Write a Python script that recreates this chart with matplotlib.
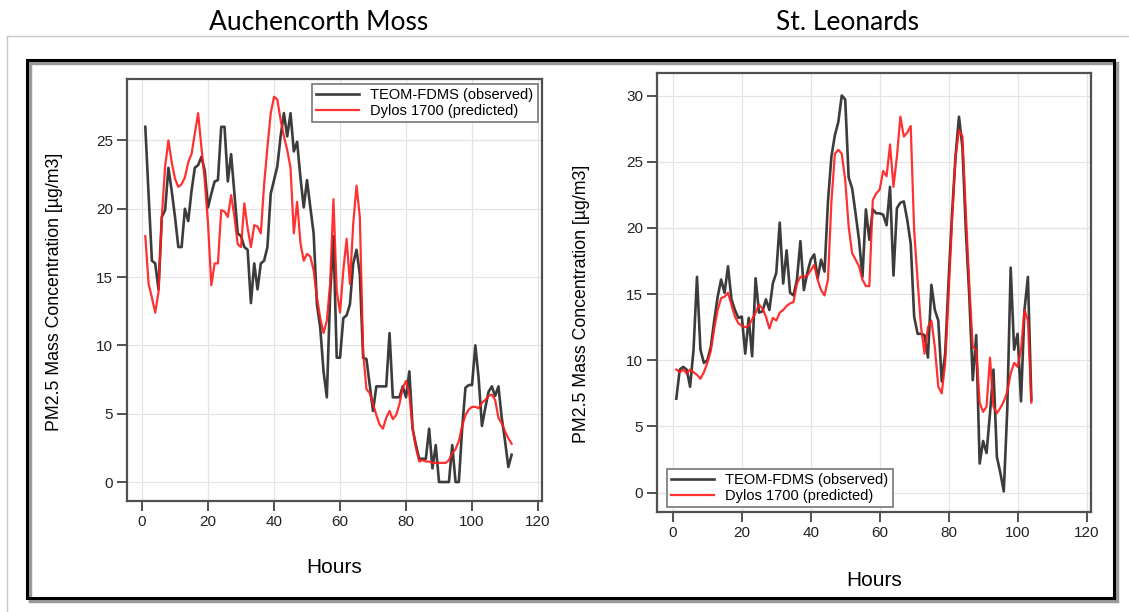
import numpy as np
import matplotlib
matplotlib.use("Agg")
import matplotlib.pyplot as plt
from matplotlib.patches import Rectangle
from matplotlib.lines import Line2D

plt.rcParams['font.family'] = ['Liberation Sans', 'DejaVu Sans']

# Auchencorth Moss, hourly PM2.5 (ug/m3)
am_obs = [26, 21, 16.2, 16, 14.1, 19.4, 19.9, 23, 21.3, 19.4,
          17.2, 17.2, 20, 19.1, 21.3, 23, 23.2, 23.8, 22.8, 20.1,
          21.1, 22, 22.1, 26, 26, 22, 24, 21.1, 18.2, 18,
          17.2, 17, 13.1, 16, 14.1, 16, 16.2, 17.2, 21.1, 22.1,
          23.1, 25.3, 27, 25.3, 27, 24.2, 24.9, 22.3, 20.1, 22.1,
          20.1, 18.2, 13, 11.3, 8.1, 6.2, 13.7, 18, 9.1, 9.1,
          12, 12.2, 13, 16, 17, 15.2, 9.1, 9, 7.1, 5.2,
          7, 7, 7, 7, 10.9, 6.2, 6.2, 6.2, 7, 6.2,
          8.1, 3.9, 2.7, 1.7, 1.7, 1.7, 3.9, 1, 2.7, 0,
          0, 0, 0, 2.7, 0, 0, 3.9, 6.9, 7.1, 7.1,
          10, 7.6, 4.1, 5.4, 6.6, 7, 6.3, 7, 4.7, 3,
          1.1, 2]
am_pred = [18, 14.5, 13.5, 12.4, 13.9, 19.4, 23.1, 25, 23.4, 22.2,
           21.6, 21.8, 22.3, 23.4, 24, 25.5, 27, 24.5, 22.1, 18.9,
           14.4, 16, 16, 19.9, 19.8, 19.4, 21, 19.4, 17.4, 17.2,
           20.4, 18.6, 17.2, 18.8, 18.7, 18.2, 21.8, 24.5, 27, 28.2,
           28, 26.5, 25.3, 24.3, 23, 18.2, 20.5, 17.5, 16.2, 16.7,
           16.5, 15.5, 13.5, 12, 10.9, 11.8, 14.5, 20.7, 14, 12.4,
           15.5, 17.8, 14.5, 18.9, 21.7, 19.4, 9.5, 6.8, 6.5, 5.7,
           4.9, 4.2, 3.9, 4.7, 5.2, 4.6, 4.9, 5.7, 6.9, 7.4,
           6.4, 3.9, 2.5, 1.5, 1.6, 1.5, 1.5, 1.4, 1.4, 1.4,
           1.4, 1.4, 1.6, 2.1, 2.4, 3, 4.1, 4.9, 5.3, 5.5,
           5.5, 5.4, 5.8, 6, 6.3, 6.4, 6, 4.7, 4.3, 3.7,
           3.2, 2.8]

# St. Leonards
sl_obs = [7.1, 9.3, 9.5, 9.3, 8, 10.8, 16.3, 10.8, 9.8, 10,
          11, 13, 14.8, 16.1, 15.1, 17.1, 14.6, 13.8, 13.2, 13.3,
          10.5, 13.2, 10.3, 16.2, 13.6, 13.7, 14.6, 13.8, 15.8, 16.6,
          20.4, 15.8, 18.3, 15.1, 14.9, 16.1, 19, 15.3, 16.6, 17.6,
          18, 16.2, 17.6, 16.7, 22, 25.4, 27, 28, 30, 29.7,
          23.8, 23, 21.1, 19.1, 16.3, 21.4, 19.1, 21.4, 21.1, 21.1,
          21, 20.2, 23.1, 16.4, 21.5, 21.9, 22, 20.6, 18.8, 13.3,
          12, 12, 11.9, 10.2, 15.7, 13.8, 13, 8.4, 10.5, 16.1,
          21.1, 25.4, 28.4, 26.1, 19.8, 14.8, 8.5, 11.9, 2.2, 3.9,
          3, 6, 9.3, 2.7, 1.5, 0.1, 6.2, 17, 10.8, 12,
          6.9, 13.8, 16.3, 7]
sl_pred = [9.3, 9.1, 9.3, 9, 9.3, 9.1, 8.9, 8.6, 9.1, 9.8,
           10.7, 12.4, 13.8, 14.7, 14.8, 15.1, 14.2, 13.3, 12.8, 12.6,
           12.5, 12.6, 13.1, 13.6, 14.2, 13.9, 13.3, 12.4, 13.2, 13,
           13.6, 13.8, 14.1, 14.3, 14.4, 15.8, 16.3, 16.3, 16.4, 16.8,
           17.2, 16.1, 15.3, 14.9, 16.1, 22, 25.6, 25.9, 25.6, 23.6,
           20.1, 18.1, 17.6, 17.1, 16.1, 15.6, 15.6, 22.1, 22.6, 22.9,
           24.3, 23.9, 26.3, 23.1, 25.4, 28.4, 26.9, 27.2, 27.7, 19.8,
           16, 12.5, 10.5, 12.5, 13, 11, 8, 7.5, 9.8, 15.1,
           20.6, 25.3, 27.4, 26.9, 21.1, 15.6, 11, 10.8, 6.8, 6.1,
           6.5, 10.2, 6.5, 6, 6.4, 6.9, 7.6, 9, 9.8, 9.5,
           10.8, 13.8, 13, 6.8]

W, H = 1129, 612
fig = plt.figure(figsize=(W / 100, H / 100), dpi=100)


def px_rect(l, t, r, b):
    return [l / W, 1 - b / H, (r - l) / W, (b - t) / H]


# outer decoration: thin grey rules and black framed box
fig.add_artist(Line2D([7 / W, 1], [1 - 36 / H, 1 - 36 / H], color='#c8c8c8', lw=1))
fig.add_artist(Line2D([7 / W, 7 / W], [0, 1 - 36 / H], color='#c8c8c8', lw=1))
fig.add_artist(Rectangle((30 / W, 1 - 601 / H), 1087 / W, 538 / H,
                         facecolor='none', edgecolor='#9a9a9a', lw=2.5))
fig.add_artist(Rectangle((27 / W, 1 - 598 / H), 1087 / W, 538 / H,
                         facecolor='none', edgecolor='black', lw=2.2))

fig.text(319 / W, 1 - 23 / H, 'Auchencorth Moss', ha='center', va='center',
         fontsize=19, family='Lato')
fig.text(848 / W, 1 - 23 / H, 'St. Leonards', ha='center', va='center',
         fontsize=19, family='Lato')


def panel(rect, obs, pred, xlim, ylim, yticks, leg_loc, leg_anchor, ylab_y):
    ax = fig.add_axes(rect)
    hours = np.arange(1, len(obs) + 1)
    ax.plot(hours, obs, color='#1a1a1a', lw=1.9, alpha=0.85, label='TEOM-FDMS (observed)')
    ax.plot(hours, pred, color='#ff1a1a', lw=1.6, alpha=0.9, label='Dylos 1700 (predicted)')
    ax.set_xlim(*xlim)
    ax.set_ylim(*ylim)
    ax.set_xticks([0, 20, 40, 60, 80, 100, 120])
    ax.set_yticks(yticks)
    ax.grid(True, color='#e4e4e4', lw=0.9)
    ax.set_axisbelow(True)
    for s in ax.spines.values():
        s.set_color('#505050')
        s.set_linewidth(1.6)
    ax.tick_params(direction='out', length=7, width=1.1, pad=3,
                   labelsize=11, colors='#222222')
    ax.set_xlabel('Hours', fontsize=15)
    ax.set_ylabel('PM2.5 Mass Concentration [µg/m3]', fontsize=12.8)
    ax.xaxis.set_label_coords(0.5, -0.135)
    ax.yaxis.set_label_coords(-0.155, ylab_y)
    leg = ax.legend(loc=leg_loc, bbox_to_anchor=leg_anchor, borderaxespad=0,
                    fancybox=False, fontsize=10.5, handlelength=2.9,
                    labelspacing=0.1, borderpad=0.3, framealpha=1)
    leg.get_frame().set_edgecolor('#777777')
    leg.get_frame().set_linewidth(1.2)
    return ax


panel(px_rect(127, 79, 542, 501), am_obs, am_pred, (-4.55, 121.2), (-1.39, 29.5),
      [0, 5, 10, 15, 20, 25], 'upper right', (0.99, 0.988), 0.495)
panel(px_rect(657, 73, 1091, 512), sl_obs, sl_pred, (-4.6, 121.3), (-1.46, 31.7),
      [0, 5, 10, 15, 20, 25, 30], 'lower left', (0.023, 0.011), 0.474)

fig.savefig('out.png', dpi=100)
